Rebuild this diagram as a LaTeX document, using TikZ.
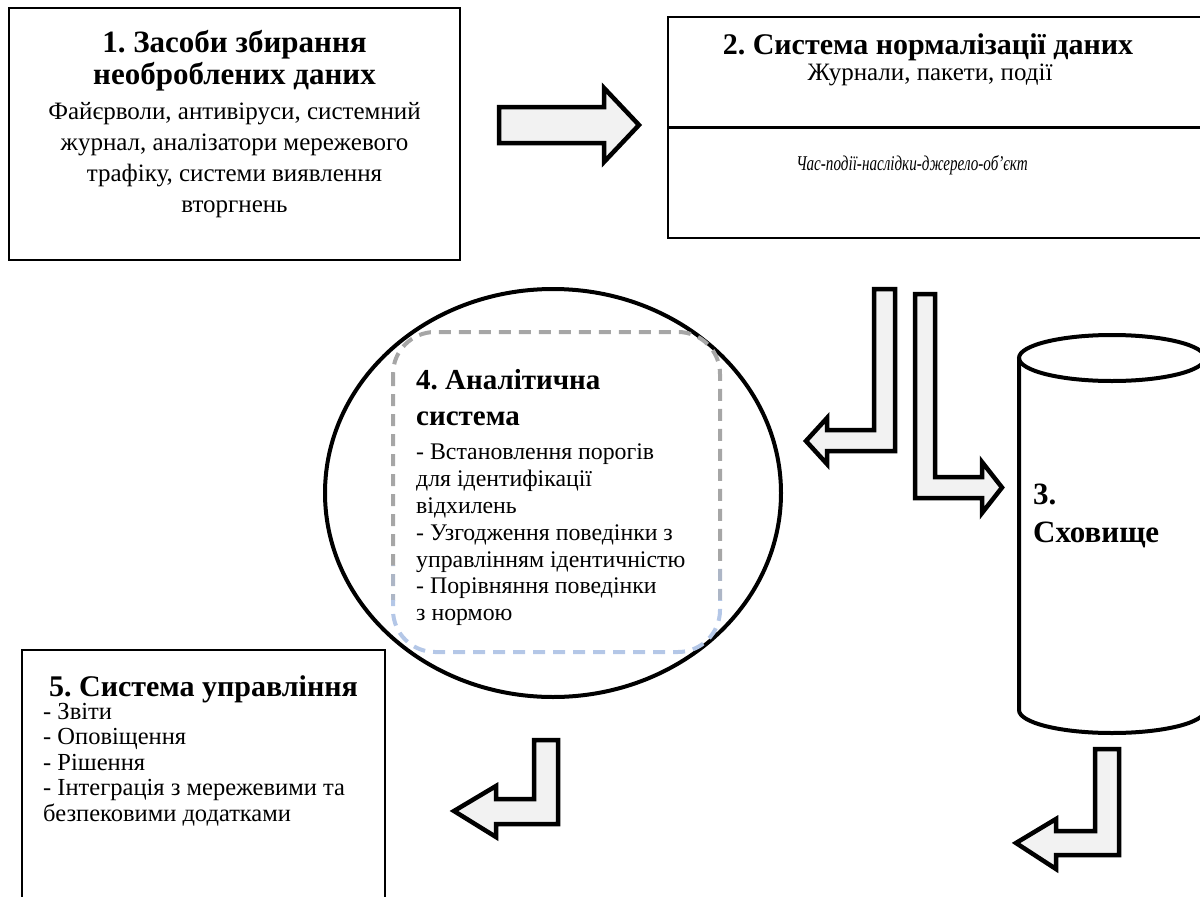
\documentclass[tikz,border=0pt]{standalone}
\usepackage{fontspec}
\setmainfont{Liberation Serif}
\newfontfamily\narrowserif[FakeStretch=0.72]{Liberation Serif}
\usetikzlibrary{positioning}
\definecolor{arrowfill}{HTML}{F2F2F2}
\definecolor{dashgray}{HTML}{A6A6A6}
\definecolor{dashblue}{HTML}{B4C7E7}
\tikzset{
  framebox/.style={draw, line width=2pt, inner sep=0pt},
  blockarrow/.style={draw, fill=arrowfill, line width=4.5pt, line join=miter},
  dashbox/.style={line width=4pt, dash pattern=on 12pt off 8pt, rounded corners=42pt},
  headtext/.style={inner sep=0pt, font=\fontsize{30}{33}\selectfont\bfseries},
  bodytext/.style={inner sep=0pt, font=\fontsize{25}{31}\selectfont}
}
\frenchspacing

\begin{document}
\begin{tikzpicture}[x=1pt,y=-1pt]
  \useasboundingbox (0,0) rectangle (1200,897);

  % frames
  \node[framebox, minimum width=451pt, minimum height=252pt] (collect) at (234.5,134) {};
  \node[framebox, minimum width=542pt, minimum height=221pt] (normal) at (939,127.5) {};
  \draw[line width=2.5pt] (normal.west) -- (normal.east);
  \node[framebox, minimum width=363pt, minimum height=270pt] (manage) at (203.5,785) {};

  % 1
  \node[headtext, anchor=north, align=center, font=\fontsize{31}{32}\selectfont\bfseries] (collecthead) at (234.5,30)
    {1. Засоби збирання\\необроблених даних};
  \node[bodytext, anchor=north, align=center] (collectbody) at (234.5,102)
    {Файєрволи, антивіруси, системний\\журнал, аналізатори мережевого\\трафіку, системи виявлення\\вторгнень};

  % 2
  \node[headtext, anchor=base] (normalhead) at (928,54) {2. Система нормалізації даних};
  \node[bodytext, anchor=base] (normalsub) at (930,80) {Журнали, пакети, події};
  \node[inner sep=0pt, anchor=base, font=\narrowserif\fontsize{21}{25}\selectfont\itshape] (normalfmt) at (912,170)
    {Час-події-наслідки-джерело-об’єкт};

  % 4
  \draw[line width=4pt] (553,493) ellipse [x radius=228, y radius=204];
  \begin{scope}
    \clip (380,320) rectangle (735,565);
    \draw[dashbox, draw=dashgray] (393,332) rectangle (720,652);
  \end{scope}
  \begin{scope}
    \clip (380,565) rectangle (735,600);
    \draw[dashbox, draw=dashgray!50!dashblue] (393,332) rectangle (720,652);
  \end{scope}
  \begin{scope}
    \clip (380,600) rectangle (735,665);
    \draw[dashbox, draw=dashblue] (393,332) rectangle (720,652);
  \end{scope}
  \node[headtext, anchor=north west, align=left, font=\fontsize{29}{36}\selectfont\bfseries] (analyzehead) at (416,369)
    {4. Аналітична\\система};
  \node[bodytext, anchor=north west, align=left, font=\fontsize{23.8}{26.8}\selectfont] (analyzebody) at (416,444)
    {- Встановлення порогів\\для ідентифікації\\відхилень\\- Узгодження поведінки з\\управлінням ідентичністю\\- Порівняння поведінки\\з нормою};

  % 3
  \draw[line width=4pt, fill=white] (1019,358) -- (1019,710)
    arc[start angle=180, end angle=0, x radius=93, y radius=23] -- (1205,358);
  \draw[line width=4pt] (1112,358) ellipse [x radius=93, y radius=23];
  \node[headtext, anchor=north west, align=left, font=\fontsize{31}{38}\selectfont\bfseries] (storage) at (1033,484)
    {3.\\Сховище};

  % 5
  \node[headtext, anchor=base] (managehead) at (203.5,696) {5. Система управління};
  \node[bodytext, anchor=north west, align=left, font=\fontsize{24.5}{25.5}\selectfont] (managebody) at (43,703)
    {- Звіти\\- Оповіщення\\- Рішення\\- Інтеграція з мережевими та\\безпековими додатками};

  % block arrows
  \draw[blockarrow] (499,107) -- (604,107) -- (604,88) -- (639,125) -- (604,162) -- (604,143) -- (499,143) -- cycle;
  \draw[blockarrow] (874,289) -- (895,289) -- (895,451) -- (827,451) -- (827,464) -- (806,441)
    -- (827,418) -- (827,430) -- (874,430) -- cycle;
  \draw[blockarrow] (915,294) -- (935,294) -- (935,477) -- (982,477) -- (982,462) -- (1002,487.5)
    -- (982,513) -- (982,498) -- (915,498) -- cycle;
  \draw[blockarrow] (1095,749) -- (1119,749) -- (1119,855) -- (1056,855) -- (1056,869) -- (1016,843)
    -- (1056,819) -- (1056,831) -- (1095,831) -- cycle;
  \draw[blockarrow] (534,740) -- (558,740) -- (558,824) -- (496,824) -- (496,837) -- (454,811)
    -- (496,786) -- (496,799) -- (534,799) -- cycle;
\end{tikzpicture}
\end{document}
